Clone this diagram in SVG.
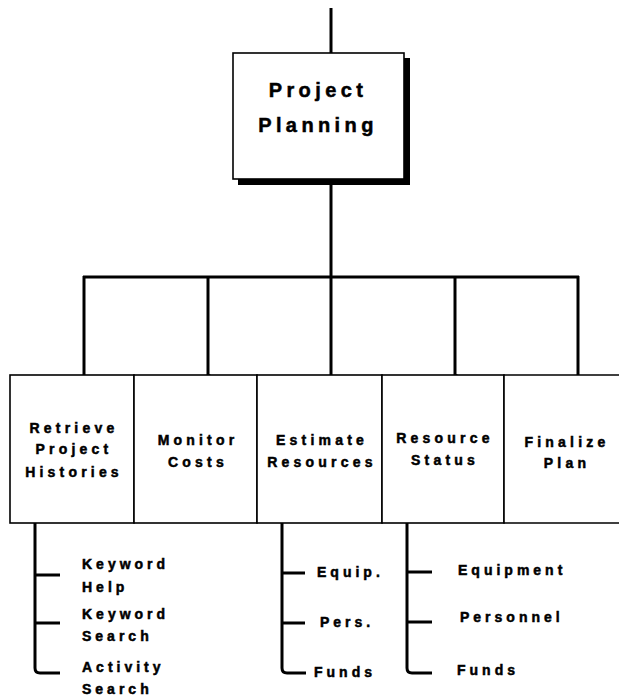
<svg xmlns="http://www.w3.org/2000/svg" width="619" height="699" viewBox="0 0 619 699">
<style>
.t{font-family:"Liberation Sans",Arial,sans-serif;font-weight:bold;fill:#000;stroke:#000;stroke-width:0.5;}
.big{font-size:20px;letter-spacing:4.4px;}
.lbl{font-size:14px;letter-spacing:4.2px;}
.sub{font-size:14px;letter-spacing:4px;}
.box{fill:#fff;stroke:#000;stroke-width:1.6;}
.conn{fill:none;stroke:#000;stroke-width:3;stroke-linejoin:miter;}
</style>
<rect width="619" height="699" fill="#fff"/>
<g id="connectors">
<line class="conn" x1="331" y1="8" x2="331" y2="55"/>
<line class="conn" x1="331" y1="180" x2="331" y2="277"/>
<line class="conn" x1="83" y1="277" x2="579" y2="277"/>
<line class="conn" x1="84" y1="276" x2="84" y2="375"/>
<line class="conn" x1="208" y1="276" x2="208" y2="375"/>
<line class="conn" x1="331" y1="276" x2="331" y2="375"/>
<line class="conn" x1="455" y1="276" x2="455" y2="375"/>
<line class="conn" x1="578" y1="276" x2="578" y2="375"/>
<path class="conn" d="M208,375 L257,400"/>
<path class="conn" d="M455,375 L504,398"/>
<path class="conn" d="M35,523 V668 Q35,673 40,673 H60 M35,575 H60 M35,623 H60"/>
<path class="conn" d="M282,523 V668 Q282,673 287,673 H306 M282,573 H305 M282,623 H305"/>
<path class="conn" d="M407,523 V668 Q407,673 412,673 H432 M407,572 H432 M407,622 H432"/>
</g>
<g id="project-planning">
<rect x="238" y="58" width="172" height="127" fill="#000"/>
<rect class="box" x="233" y="53" width="171" height="126"/>
<text class="t big" x="318" y="97" text-anchor="middle">Project</text>
<text class="t big" x="318" y="132" text-anchor="middle">Planning</text>
</g>
<g id="retrieve-project-histories">
<rect class="box" x="10" y="375" width="124" height="148"/>
<text class="t lbl" x="74" y="433" text-anchor="middle">Retrieve</text>
<text class="t lbl" x="74" y="454" text-anchor="middle">Project</text>
<text class="t lbl" x="74" y="477" text-anchor="middle">Histories</text>
</g>
<g id="monitor-costs">
<rect class="box" x="134" y="375" width="123" height="148"/>
<text class="t lbl" x="198" y="445" text-anchor="middle">Monitor</text>
<text class="t lbl" x="198" y="467" text-anchor="middle">Costs</text>
</g>
<g id="estimate-resources">
<rect class="box" x="257" y="375" width="125" height="148"/>
<text class="t lbl" x="322" y="445" text-anchor="middle">Estimate</text>
<text class="t lbl" x="322" y="467" text-anchor="middle">Resources</text>
</g>
<g id="resource-status">
<rect class="box" x="382" y="375" width="122" height="148"/>
<text class="t lbl" x="445" y="443" text-anchor="middle">Resource</text>
<text class="t lbl" x="445" y="465" text-anchor="middle">Status</text>
</g>
<g id="finalize-plan">
<path class="box" d="M621,375 H504 V523 H621"/>
<text class="t lbl" x="567" y="447" text-anchor="middle">Finalize</text>
<text class="t lbl" x="567" y="468" text-anchor="middle">Plan</text>
</g>
<g id="keyword-help"><text class="t sub" x="82" y="569">Keyword</text><text class="t sub" x="82" y="592">Help</text></g>
<g id="keyword-search"><text class="t sub" x="82" y="619">Keyword</text><text class="t sub" x="82" y="641">Search</text></g>
<g id="activity-search"><text class="t sub" x="82" y="672">Activity</text><text class="t sub" x="82" y="694">Search</text></g>
<g id="equip"><text class="t sub" x="317" y="577">Equip.</text></g>
<g id="pers"><text class="t sub" x="320" y="627">Pers.</text></g>
<g id="funds-1"><text class="t sub" x="314" y="677">Funds</text></g>
<g id="equipment"><text class="t sub" x="458" y="575">Equipment</text></g>
<g id="personnel"><text class="t sub" x="460" y="622">Personnel</text></g>
<g id="funds-2"><text class="t sub" x="457" y="675">Funds</text></g>
</svg>
